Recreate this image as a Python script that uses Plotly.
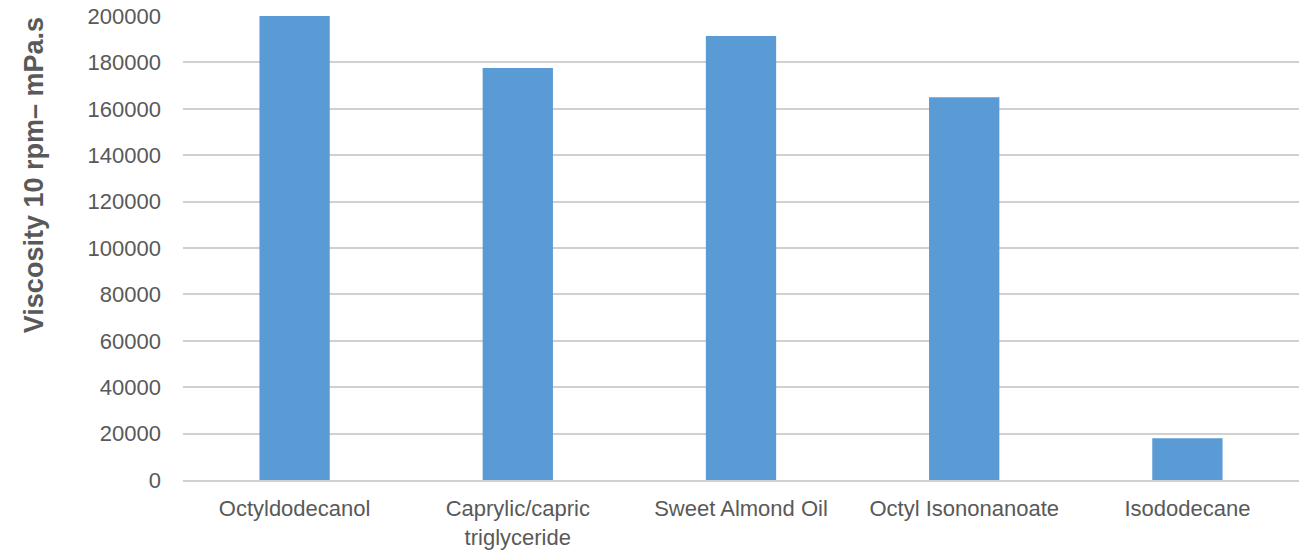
import plotly.graph_objects as go

categories = ["Octyldodecanol", "Caprylic/capric<br>triglyceride", "Sweet Almond Oil",
              "Octyl Isononanoate", "Isododecane"]
viscosity = [200000, 177600, 191400, 165000, 18000]
tick_vals = [0, 20000, 40000, 60000, 80000, 100000, 120000, 140000, 160000, 180000, 200000]
y_title = "Viscosity 10 rpm– mPa.s"

text_color = "#595959"
font_family = "Liberation Sans, Arial, sans-serif"

fig = go.Figure(go.Bar(
    x=categories, y=viscosity,
    marker=dict(color="#5b9bd5", line=dict(width=0)),
    width=0.315,
))

fig.update_layout(
    width=1299, height=550,
    margin=dict(l=183, r=0, t=16, b=70, autoexpand=False),
    paper_bgcolor="white", plot_bgcolor="white",
    showlegend=False,
    font=dict(family=font_family, size=22, color=text_color),
)
fig.update_xaxes(
    showgrid=False, showline=True, linecolor="#d0d0d0", linewidth=2,
    ticks="", tickfont=dict(size=22, color=text_color),
    ticklabelstandoff=8, automargin=False,
)
fig.update_yaxes(
    range=[0, 200000], tickvals=tick_vals, ticktext=[str(v) for v in tick_vals],
    showgrid=True, gridcolor="#d0d0d0", gridwidth=2,
    zeroline=False, showline=False, ticks="",
    tickfont=dict(size=22, color=text_color),
    ticklabelstandoff=21, automargin=False,
)
fig.add_annotation(
    text=y_title, xref="paper", yref="paper", x=-0.1335, y=0.657,
    showarrow=False, textangle=-90, xanchor="center", yanchor="middle",
    font=dict(family=font_family, size=27, color=text_color, weight="bold"),
)
fig.write_html("out.html", config={"displayModeBar": False},
               post_script="document.body.style.margin='0';document.body.style.overflow='hidden';")
